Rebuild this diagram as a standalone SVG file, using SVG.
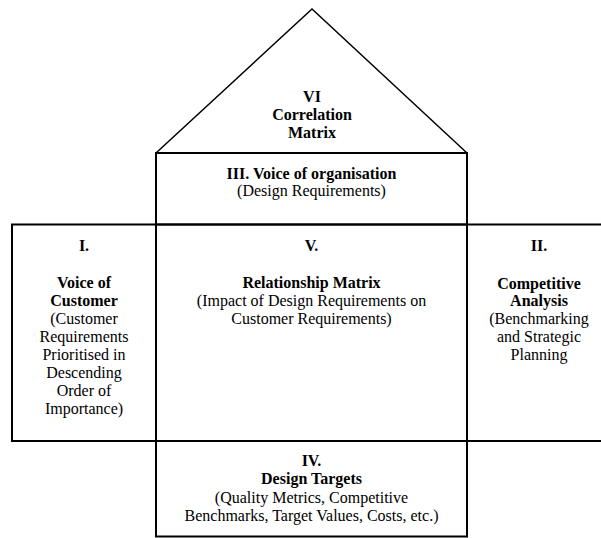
<svg xmlns="http://www.w3.org/2000/svg" width="601" height="538" viewBox="0 0 601 538">
<style>
.box{fill:none;stroke:#000;stroke-width:2}
.roof{fill:none;stroke:#000;stroke-width:1.5}
text{font-size:16px;fill:#000;text-anchor:middle}
.b{font-weight:bold}
</style>
<rect width="601" height="538" fill="#fff"/>
<g id="connectors"></g>
<g font-family="'Liberation Serif', 'DejaVu Serif', serif">
<g id="roof">
<polyline class="roof" points="156,153 312,9 467,153"/>
<text class="b" x="312" y="102">VI</text>
<text class="b" x="312" y="120">Correlation</text>
<text class="b" x="312" y="138">Matrix</text>
</g>
<g id="voice-org">
<rect class="box" x="156" y="153" width="311" height="71.5"/>
<text class="b" x="311.5" y="179">III. Voice of organisation</text>
<text x="311.5" y="196">(Design Requirements)</text>
</g>
<g id="voice-customer">
<rect class="box" x="12" y="224.5" width="144" height="216.5"/>
<text class="b" x="84" y="251">I.</text>
<text class="b" x="84" y="288">Voice of</text>
<text class="b" x="84" y="306">Customer</text>
<text x="84" y="324">(Customer</text>
<text x="84" y="342">Requirements</text>
<text x="84" y="360">Prioritised in</text>
<text x="84" y="378">Descending</text>
<text x="84" y="396">Order of</text>
<text x="84" y="414">Importance)</text>
</g>
<g id="relationship">
<rect class="box" x="156" y="224.5" width="311" height="216.5"/>
<text class="b" x="311.5" y="251">V.</text>
<text class="b" x="311.5" y="288">Relationship Matrix</text>
<text x="311.5" y="306">(Impact of Design Requirements on</text>
<text x="311.5" y="324">Customer Requirements)</text>
</g>
<g id="competitive">
<path class="box" d="M603,224.5 H467 V441 H603"/>
<text class="b" x="539" y="251">II.</text>
<text class="b" x="539" y="289">Competitive</text>
<text class="b" x="539" y="306">Analysis</text>
<text x="539" y="324">(Benchmarking</text>
<text x="539" y="342">and Strategic</text>
<text x="539" y="360">Planning</text>
</g>
<g id="design-targets">
<rect class="box" x="156" y="441" width="311" height="95.5"/>
<text class="b" x="311.5" y="466">IV.</text>
<text class="b" x="311.5" y="484">Design Targets</text>
<text x="311.5" y="502.5">(Quality Metrics, Competitive</text>
<text x="311.5" y="520.5">Benchmarks, Target Values, Costs, etc.)</text>
</g>
</g>
</svg>
